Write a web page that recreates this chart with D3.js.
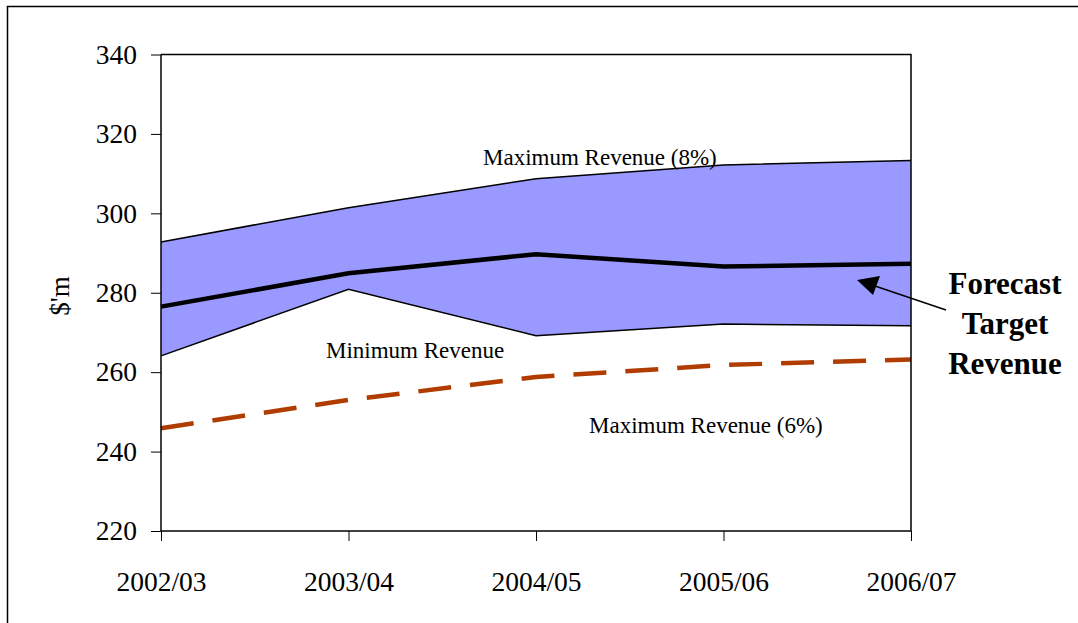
<!DOCTYPE html>
<html><head><meta charset="utf-8">
<script src="https://cdn.jsdelivr.net/npm/d3@7"></script>
<style>html,body{margin:0;padding:0;background:#fff;}svg{display:block;}</style>
</head><body>
<svg id="c" width="1078" height="623"></svg>
<script>
const categories = ["2002/03","2003/04","2004/05","2005/06","2006/07"];
const maxRevenue8 = [292.8, 301.4, 308.7, 312.2, 313.3];
const minRevenue = [264.1, 280.9, 269.2, 272.1, 271.7];
const forecastTarget = [276.5, 284.9, 289.7, 286.6, 287.3];
const maxRevenue6 = [245.9, 253.0, 258.8, 261.8, 263.2];
const yTicks = [220,240,260,280,300,320,340];

const svg = d3.select("#c");
const font = "'Liberation Serif','Times New Roman',serif";
const L = 161, R = 911, T = 54.5, B = 531;

svg.append("rect").attr("x",7.5).attr("y",6.5).attr("width",1090).attr("height",640)
  .attr("fill","#fff").attr("stroke","#000").attr("stroke-width",1.5);

const x = d3.scalePoint().domain(categories).range([L,R]);
const y = d3.scaleLinear().domain([220,340]).range([B,T]);

// band
const band = d3.area().x((d,i)=>x(categories[i])).y0((d,i)=>y(minRevenue[i])).y1(d=>y(d));
svg.append("path").datum(maxRevenue8).attr("d",band).attr("fill","#9999ff");
const line = d3.line().x((d,i)=>x(categories[i])).y(d=>y(d));
svg.append("path").datum(maxRevenue8).attr("d",line).attr("fill","none").attr("stroke","#000").attr("stroke-width",1.5);
svg.append("path").datum(minRevenue).attr("d",line).attr("fill","none").attr("stroke","#000").attr("stroke-width",1.5);
svg.append("path").datum(maxRevenue6).attr("d",line).attr("fill","none").attr("stroke","#b03c00").attr("stroke-width",4.5).attr("stroke-dasharray","33,19");
svg.append("path").datum(forecastTarget).attr("d",line).attr("fill","none").attr("stroke","#000").attr("stroke-width",4.5);

// plot frame right/top
svg.append("path").attr("d",`M${L},${T}H${R}V${B}`).attr("fill","none").attr("stroke","#000").attr("stroke-width",1.5);

// axes
const ya = svg.append("g").attr("transform",`translate(${L},0)`)
  .call(d3.axisLeft(y).tickValues(yTicks).tickSize(10).tickPadding(14));
const xa = svg.append("g").attr("transform",`translate(0,${B})`)
  .call(d3.axisBottom(x).tickSize(10).tickPadding(30));
[ya,xa].forEach(g=>{
  g.attr("font-size",null).attr("font-family",null);
  g.select(".domain").attr("stroke","#000").attr("stroke-width",1.5);
  g.selectAll(".tick line").attr("stroke","#000").attr("stroke-width",1);
  g.selectAll("text").style("font-family",font).style("font-size","27.5px").attr("fill","#000");
});
xa.select(".domain").attr("d",`M${L},0H${R}`);
ya.select(".domain").attr("d",`M0,${T}V${B}`);

svg.append("text").attr("transform","translate(69,296) rotate(-90)").attr("text-anchor","middle")
  .style("font-family",font).style("font-size","27px").text("$'m");

const ann = (t,xx,yy)=>svg.append("text").attr("x",xx).attr("y",yy).style("font-family",font).style("font-size","23px").text(t);
ann("Maximum Revenue (8%)",483,165);
ann("Minimum Revenue",326,358);
ann("Maximum Revenue (6%)",589,433);

const bold = ["Forecast","Target","Revenue"];
bold.forEach((t,i)=>svg.append("text").attr("x",1005).attr("y",294+i*40).attr("text-anchor","middle")
  .style("font-family",font).style("font-size","31px").attr("font-weight","bold").text(t));

// arrow
svg.append("line").attr("x1",946).attr("y1",310).attr("x2",872).attr("y2",285).attr("stroke","#000").attr("stroke-width",1.5);
svg.append("path").attr("d","M857,280 L880,276 L873,295 Z").attr("fill","#000");
</script>
</body></html>
